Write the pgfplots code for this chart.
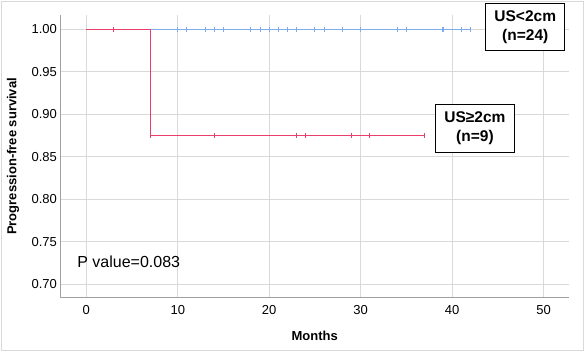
\documentclass[border=0pt]{standalone}
\usepackage{pgfplots}
\pgfplotsset{compat=1.18}
\usepackage{fontspec}
\setmainfont{Liberation Sans}
\definecolor{kmblue}{HTML}{7DAEEB}
\definecolor{kmred}{HTML}{E8406A}
\definecolor{gridc}{HTML}{D9D9D9}
\definecolor{axc}{HTML}{A0A0A0}
\begin{document}
\begin{tikzpicture}[x=1pt,y=1pt]
\useasboundingbox (0,0) rectangle (585,352);
\draw[color=gridc, line width=1pt] (1.5,1.5) rectangle (583.5,350.5);
\begin{axis}[
  at={(60.7pt,54.3pt)}, anchor=south west,
  scale only axis, width=508pt, height=282.7pt,
  xmin=-2.8, xmax=52.75, ymin=0.684, ymax=1.0168,
  axis x line*=bottom, axis y line*=left,
  axis line style={color=axc, line width=0.9pt, -},
  xtick={0,10,20,30,40,50},
  ytick={0.70,0.75,0.80,0.85,0.90,0.95,1.00},
  major tick length=0pt,
  grid=major,
  major grid style={color=gridc, line width=0.9pt},
  /pgf/number format/assume math mode=true,
  yticklabel style={/pgf/number format/fixed, /pgf/number format/fixed zerofill, /pgf/number format/precision=2, anchor=east, inner sep=0pt, xshift=-3.6pt, font=\fontsize{13}{15}\selectfont},
  xticklabel style={anchor=north, inner sep=0pt, yshift=-7.5pt, font=\fontsize{13}{15}\selectfont},
  xlabel={\textbf{Months}},
  ylabel={\textbf{Progression-free survival}},
  xlabel style={at={(axis description cs:0.5,-0.1344)}, anchor=center, font=\fontsize{13}{15}\selectfont},
  ylabel style={at={(axis description cs:-0.0939,0.5)}, anchor=center, rotate=0, font=\fontsize{13}{15}\selectfont},
  clip=false,
]
% US<2cm: curve with censoring marks
\addplot[color=kmblue, line width=1.2pt, const plot, mark=|, mark size=2.7pt, mark options={solid, kmblue, line width=1.1pt}, mark indices={2,...,21}] coordinates {
(0,1)(10,1)(11,1)(13,1)(14,1)(15,1)(18,1)(19,1)(20,1)(21,1)(22,1)(23,1)(25,1)(26,1)(28,1)(30,1)(34,1)(35,1)(39,1)(41,1)(42,1)};
% US>=2cm: curve with censoring marks
\addplot[color=kmred, line width=1.2pt, const plot, mark=|, mark size=2.7pt, mark options={solid, kmred, line width=1.1pt}, mark indices={2,4,5,6,7,8,9,10}] coordinates {
(0,1)(3,1)(7,1)(7,0.875)(14,0.875)(23,0.875)(24,0.875)(29,0.875)(31,0.875)(37,0.875)};
\node[anchor=west, inner sep=0pt, font=\fontsize{16}{18}\selectfont] at (axis cs:-1.0,0.726) {P value=0.083};
\node[draw=black, line width=0.6pt, fill=white, align=center, inner sep=0pt, minimum width=79pt, minimum height=46.5pt, font=\bfseries\fontsize{15.5}{19}\selectfont] at (axis cs:48.0,1.0029) {US<2cm\\(n=24)};
\node[draw=black, line width=0.6pt, fill=white, align=center, inner sep=0pt, minimum width=79.5pt, minimum height=48pt, font=\bfseries\fontsize{15.5}{19}\selectfont] at (axis cs:42.5,0.8832) {US≥2cm\\(n=9)};
\end{axis}
\end{tikzpicture}
\end{document}
